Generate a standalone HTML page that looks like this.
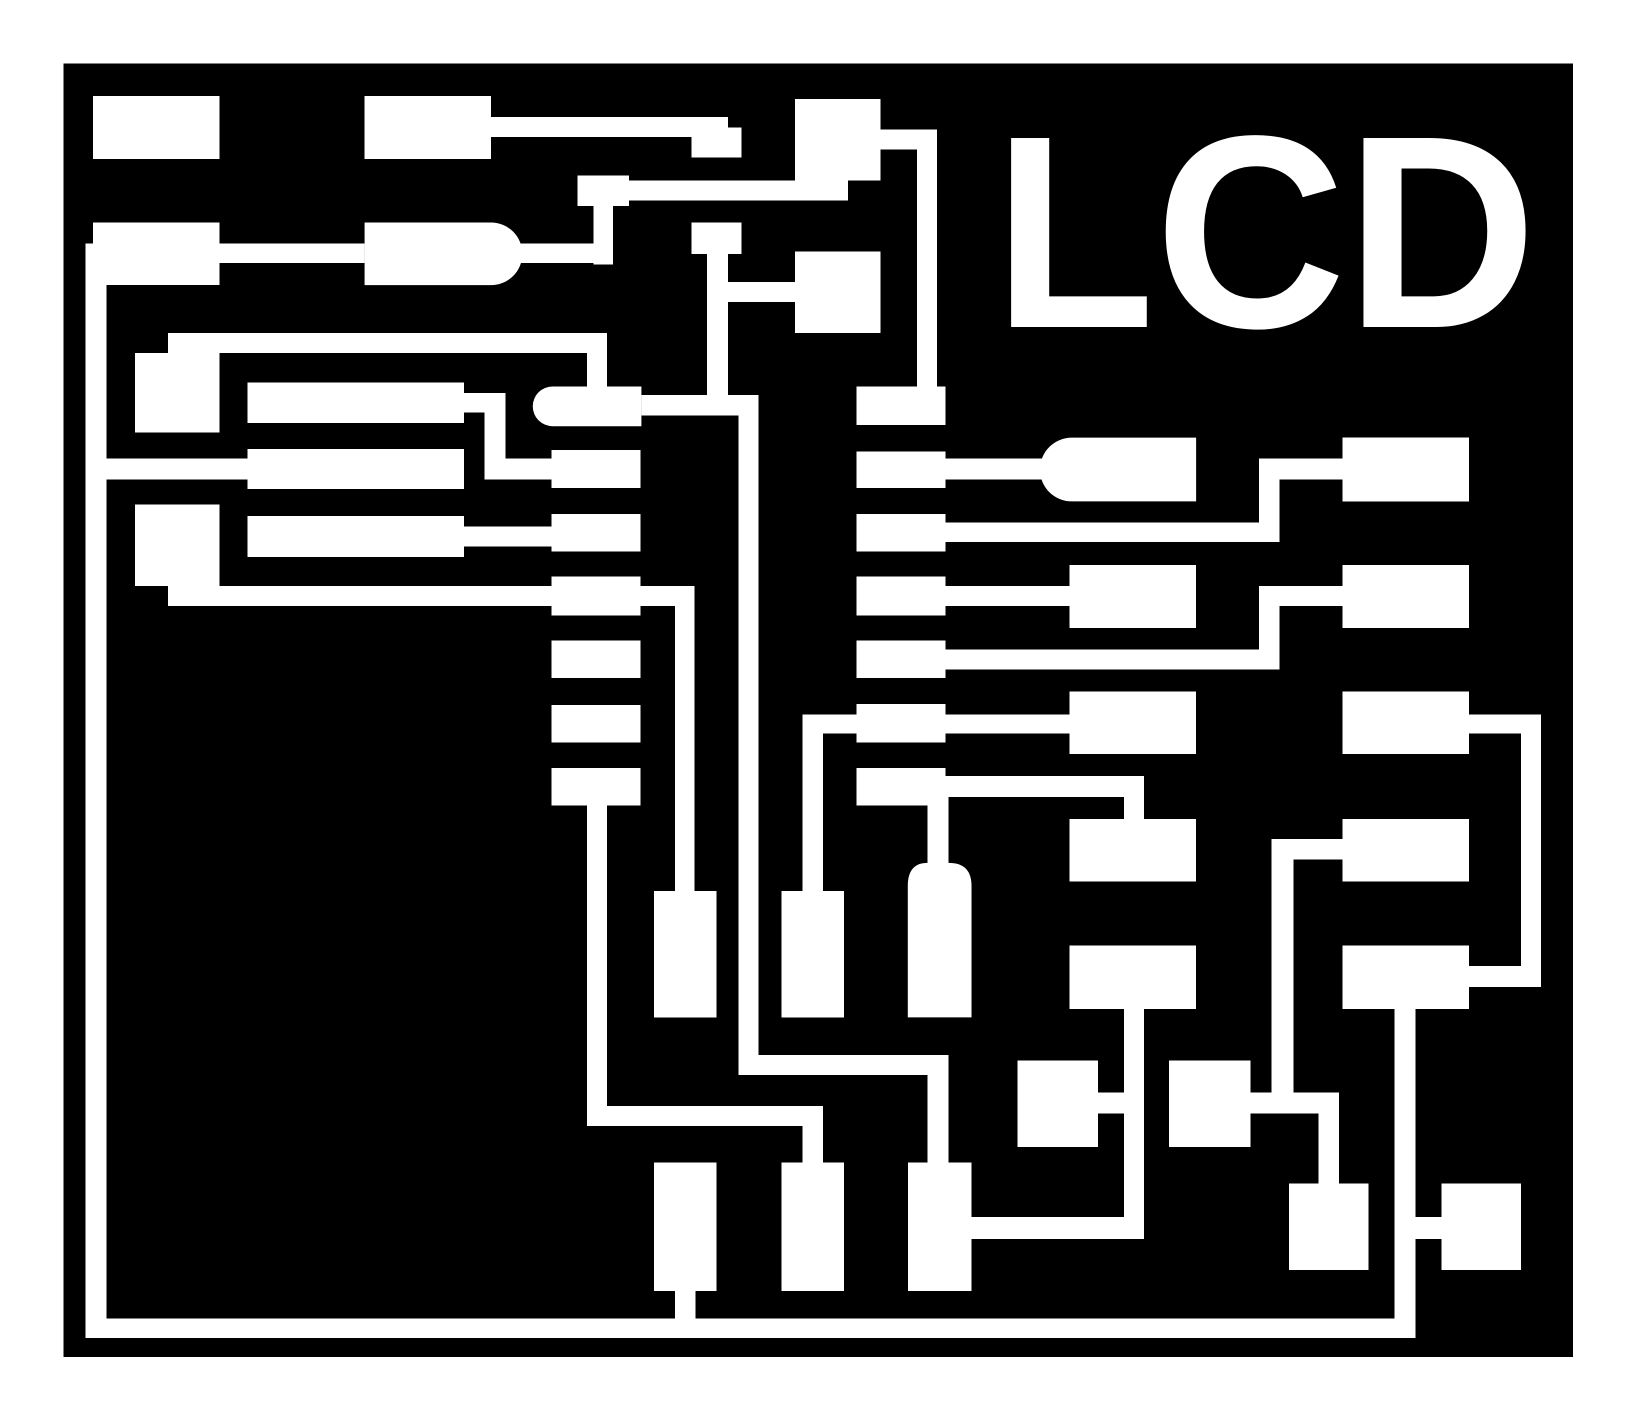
<!DOCTYPE html>
<html>
<head>
<meta charset="utf-8">
<style>
html,body{margin:0;padding:0;background:#fff;}
svg{display:block;}
</style>
</head>
<body>
<svg width="1638" height="1422" viewBox="0 0 1568 1361.3" preserveAspectRatio="none" xmlns="http://www.w3.org/2000/svg">
<rect x="0" y="0" width="1568" height="1362" fill="#fff"/>
<rect x="61" y="61" width="1445" height="1238" fill="#000" shape-rendering="crispEdges"/>
<g fill="#fff" shape-rendering="crispEdges">
<rect x="89" y="92" width="121" height="60"/>
<rect x="349" y="92" width="121" height="60"/>
<rect x="470" y="112" width="227" height="19"/>
<rect x="662" y="122" width="48" height="29"/>
<rect x="761" y="95" width="82" height="78"/>
<rect x="843" y="124" width="54" height="19"/>
<rect x="878" y="124" width="19" height="246"/>
<rect x="820" y="370" width="85" height="37"/>
<rect x="553" y="168" width="49" height="29"/>
<rect x="602" y="173" width="210" height="19"/>
<rect x="568" y="168" width="19" height="85"/>
<rect x="490" y="233" width="97" height="19"/>
<rect x="89" y="213" width="121" height="60"/>
<rect x="210" y="233" width="139" height="19"/>
<rect x="82" y="233" width="20" height="1048"/>
<rect x="82" y="1262" width="1273" height="19"/>
<rect x="662" y="213" width="48" height="30"/>
<rect x="677" y="213" width="20" height="185"/>
<rect x="677" y="270" width="84" height="19"/>
<rect x="761" y="241" width="82" height="78"/>
<rect x="614" y="378" width="112" height="20"/>
<rect x="707" y="378" width="19" height="651"/>
<rect x="707" y="1010" width="201" height="19"/>
<rect x="888" y="1010" width="20" height="103"/>
<rect x="869" y="1113" width="61" height="123"/>
<rect x="129" y="338" width="81" height="76"/>
<rect x="161" y="319" width="420" height="19"/>
<rect x="562" y="319" width="19" height="55"/>
<rect x="237" y="366" width="207" height="39"/>
<rect x="444" y="376" width="40" height="19"/>
<rect x="464" y="376" width="20" height="83"/>
<rect x="464" y="439" width="64" height="20"/>
<rect x="528" y="431" width="85" height="36"/>
<rect x="237" y="430" width="207" height="38"/>
<rect x="102" y="439" width="135" height="20"/>
<rect x="237" y="494" width="207" height="39"/>
<rect x="444" y="504" width="84" height="19"/>
<rect x="528" y="492" width="85" height="36"/>
<rect x="129" y="483" width="81" height="78"/>
<rect x="161" y="561" width="367" height="19"/>
<rect x="528" y="552" width="85" height="37"/>
<rect x="613" y="561" width="52" height="19"/>
<rect x="646" y="561" width="19" height="292"/>
<rect x="626" y="853" width="60" height="121"/>
<rect x="528" y="613" width="85" height="36"/>
<rect x="528" y="675" width="85" height="36"/>
<rect x="528" y="735" width="85" height="36"/>
<rect x="562" y="771" width="19" height="307"/>
<rect x="562" y="1059" width="226" height="19"/>
<rect x="768" y="1059" width="20" height="54"/>
<rect x="748" y="1113" width="60" height="123"/>
<rect x="626" y="1113" width="60" height="123"/>
<rect x="646" y="1236" width="20" height="26"/>
<rect x="748" y="853" width="60" height="121"/>
<rect x="768" y="684" width="20" height="169"/>
<rect x="768" y="684" width="52" height="18"/>
<rect x="820" y="674" width="85" height="37"/>
<rect x="905" y="684" width="119" height="18"/>
<rect x="1024" y="662" width="121" height="60"/>
<rect x="820" y="735" width="85" height="36"/>
<rect x="888" y="763" width="20" height="63"/>
<rect x="905" y="743" width="190" height="20"/>
<rect x="1076" y="743" width="19" height="41"/>
<rect x="1024" y="784" width="121" height="60"/>
<rect x="1024" y="905" width="121" height="61"/>
<rect x="1076" y="966" width="19" height="220"/>
<rect x="930" y="1165" width="165" height="21"/>
<rect x="974" y="1015" width="77" height="83"/>
<rect x="1051" y="1046" width="25" height="20"/>
<rect x="1119" y="1015" width="78" height="83"/>
<rect x="1197" y="1046" width="85" height="20"/>
<rect x="1217" y="803" width="21" height="263"/>
<rect x="1217" y="803" width="68" height="20"/>
<rect x="1285" y="784" width="121" height="60"/>
<rect x="1262" y="1046" width="20" height="87"/>
<rect x="1234" y="1133" width="76" height="83"/>
<rect x="820" y="432" width="85" height="35"/>
<rect x="820" y="492" width="85" height="36"/>
<rect x="820" y="552" width="85" height="37"/>
<rect x="820" y="613" width="85" height="36"/>
<rect x="905" y="439" width="95" height="20"/>
<rect x="905" y="500" width="320" height="19"/>
<rect x="1205" y="439" width="20" height="80"/>
<rect x="1205" y="439" width="80" height="20"/>
<rect x="1285" y="419" width="121" height="61"/>
<rect x="905" y="561" width="119" height="19"/>
<rect x="1024" y="541" width="121" height="60"/>
<rect x="905" y="622" width="320" height="19"/>
<rect x="1205" y="561" width="20" height="80"/>
<rect x="1205" y="561" width="80" height="19"/>
<rect x="1285" y="541" width="121" height="60"/>
<rect x="1285" y="662" width="121" height="60"/>
<rect x="1406" y="684" width="69" height="18"/>
<rect x="1456" y="684" width="19" height="261"/>
<rect x="1406" y="925" width="69" height="20"/>
<rect x="1285" y="905" width="121" height="61"/>
<rect x="1335" y="905" width="20" height="376"/>
<rect x="1355" y="1165" width="25" height="21"/>
<rect x="1380" y="1133" width="76" height="83"/>
</g>
<g fill="#fff">
<path d="M349,213 H470 A30,30 0 0 1 470,273 H349 Z"/>
<path d="M614,370 H529 A19,19 0 0 0 529,408 H614 Z"/>
<path d="M869,974 V848 Q869,826 888,826 H908 Q930,826 930,848 V974 Z"/>
<path d="M1145,419 H1026 A30.5,30.5 0 0 0 1026,480 H1145 Z"/>
<text x="951" y="313" font-family="'Liberation Sans', Arial, sans-serif" font-weight="bold" font-size="263" textLength="520" lengthAdjust="spacingAndGlyphs">LCD</text>
</g>
</svg>
</body>
</html>
